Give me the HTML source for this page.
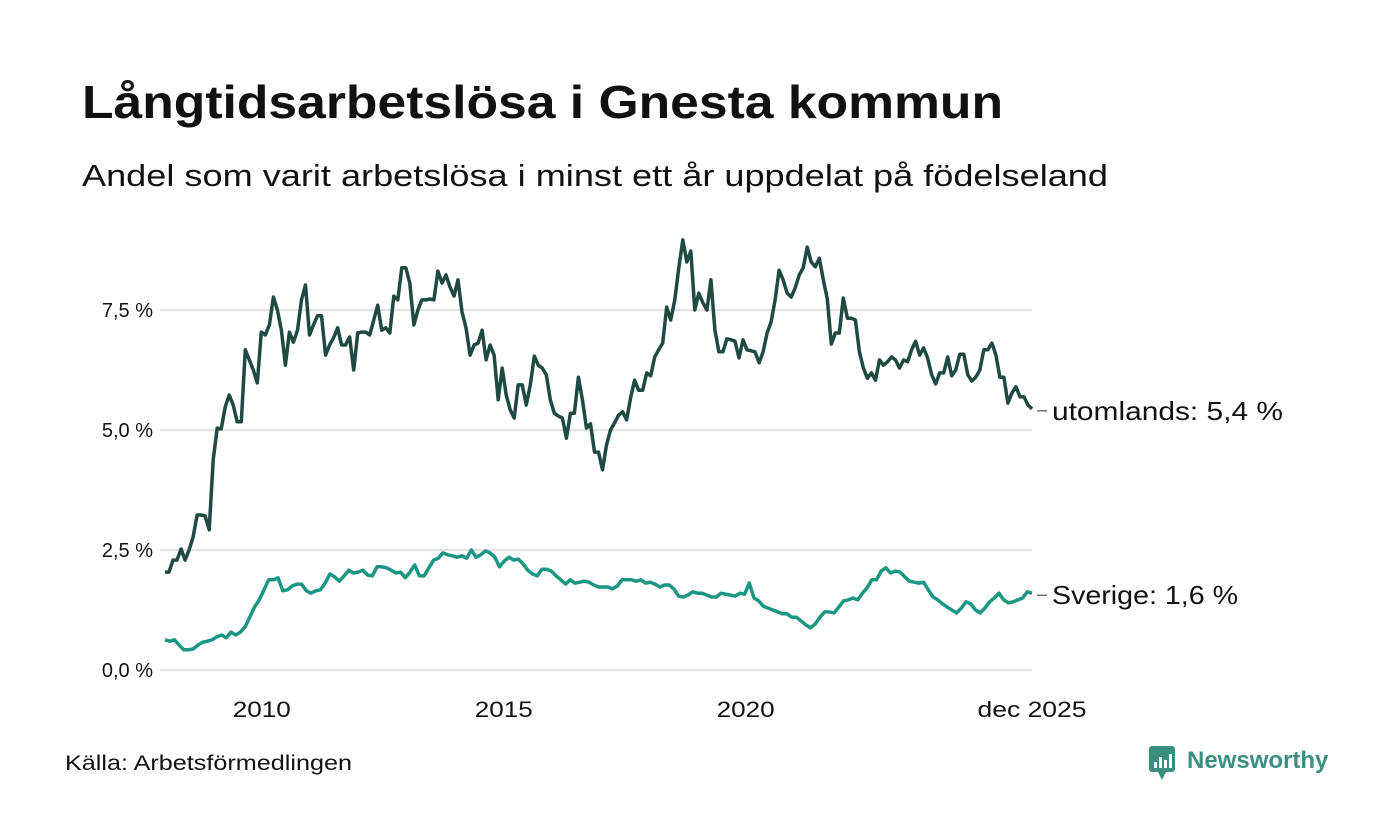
<!DOCTYPE html>
<html><head><meta charset="utf-8">
<style>
body{margin:0;background:#fff;font-family:"Liberation Sans",sans-serif;}
#wrap{position:relative;width:1400px;height:840px;overflow:hidden;background:#fff}
</style></head>
<body><div id="wrap">
<svg id="svg" width="1400" height="840" xmlns="http://www.w3.org/2000/svg">
<text x="82" y="118" font-size="46" font-weight="bold" fill="#111" textLength="921" lengthAdjust="spacingAndGlyphs" font-family="Liberation Sans, sans-serif">Långtidsarbetslösa i Gnesta kommun</text>
<text x="82" y="186" font-size="31" fill="#111" textLength="1026" lengthAdjust="spacingAndGlyphs" font-family="Liberation Sans, sans-serif">Andel som varit arbetslösa i minst ett år uppdelat på födelseland</text>
<g id="grid"></g><g id="lines"></g><g id="labels"></g>
<text x="65" y="770" font-size="21" fill="#111" textLength="287" lengthAdjust="spacingAndGlyphs">Källa: Arbetsförmedlingen</text>
<g>
<rect x="1149" y="746" width="26" height="26" rx="3" fill="#3a8f80"/>
<path d="M1158 772 L1162 780 L1166 772Z" fill="#3a8f80"/>
<rect x="1154" y="762" width="3" height="6" fill="#fff"/><rect x="1159" y="757" width="3" height="11" fill="#fff"/><rect x="1164" y="760" width="3" height="8" fill="#fff"/><rect x="1169" y="754" width="3" height="14" fill="#fff"/>
<text x="1187" y="768" font-size="24" font-weight="bold" fill="#3a8f80">Newsworthy</text>
</g>
</svg></div>
<script>
const yTicks=[0,2.5,5,7.5];
const yTickLabels=["0,0 %","2,5 %","5,0 %","7,5 %"];
const xTicks=[2010,2015,2020,2025.917];
const xTickLabels=["2010","2015","2020","dec 2025"];
const startYear=2008.0, endYear=2025.917;
const utomlands=[2.04,2.04,2.29,2.29,2.52,2.29,2.5,2.77,3.23,3.23,3.21,2.92,4.38,5.04,5.02,5.48,5.73,5.52,5.17,5.17,6.67,6.46,6.25,5.98,7.04,6.98,7.19,7.77,7.5,7.08,6.35,7.04,6.83,7.08,7.71,8.02,6.98,7.19,7.38,7.38,6.56,6.77,6.92,7.13,6.77,6.77,6.94,6.25,7.02,7.04,7.04,6.98,7.29,7.6,7.08,7.13,7.02,7.79,7.71,8.38,8.38,8.06,7.19,7.5,7.71,7.71,7.73,7.71,8.31,8.06,8.23,7.98,7.79,8.13,7.46,7.13,6.56,6.77,6.81,7.08,6.46,6.77,6.56,5.63,6.29,5.73,5.42,5.25,5.94,5.94,5.52,5.94,6.54,6.35,6.29,6.15,5.63,5.35,5.29,5.25,4.83,5.35,5.35,6.1,5.63,5.04,5.13,4.54,4.54,4.17,4.69,5.0,5.15,5.31,5.38,5.21,5.67,6.04,5.83,5.83,6.19,6.13,6.52,6.67,6.81,7.56,7.29,7.71,8.38,8.96,8.5,8.73,7.5,7.85,7.65,7.5,8.13,7.08,6.63,6.63,6.9,6.88,6.85,6.5,6.88,6.67,6.65,6.63,6.4,6.63,7.02,7.25,7.71,8.33,8.13,7.85,7.77,7.96,8.23,8.38,8.81,8.5,8.4,8.58,8.13,7.73,6.79,7.02,7.02,7.75,7.33,7.33,7.29,6.63,6.29,6.08,6.19,6.04,6.46,6.35,6.42,6.52,6.46,6.29,6.46,6.42,6.67,6.85,6.56,6.71,6.5,6.15,5.96,6.19,6.19,6.52,6.13,6.25,6.58,6.58,6.15,6.02,6.1,6.25,6.67,6.67,6.81,6.56,6.1,6.1,5.56,5.77,5.9,5.69,5.69,5.52,5.44];
const sverige=[0.63,0.6,0.63,0.52,0.42,0.42,0.44,0.52,0.58,0.6,0.63,0.69,0.73,0.67,0.79,0.73,0.79,0.9,1.1,1.31,1.46,1.67,1.88,1.88,1.92,1.65,1.67,1.75,1.79,1.79,1.65,1.6,1.65,1.67,1.81,2.0,1.94,1.85,1.96,2.08,2.02,2.04,2.08,1.98,1.96,2.15,2.15,2.13,2.08,2.02,2.04,1.92,2.04,2.19,1.96,1.96,2.13,2.29,2.33,2.44,2.4,2.38,2.35,2.38,2.33,2.5,2.35,2.4,2.48,2.44,2.35,2.15,2.27,2.35,2.29,2.31,2.21,2.08,2.0,1.96,2.1,2.1,2.06,1.96,1.88,1.79,1.88,1.81,1.83,1.85,1.83,1.77,1.73,1.73,1.73,1.69,1.75,1.88,1.88,1.88,1.85,1.88,1.81,1.83,1.79,1.73,1.77,1.77,1.69,1.54,1.52,1.56,1.63,1.6,1.6,1.56,1.52,1.52,1.6,1.58,1.56,1.54,1.6,1.58,1.81,1.5,1.44,1.33,1.29,1.25,1.21,1.17,1.17,1.1,1.1,1.02,0.94,0.88,0.96,1.1,1.21,1.21,1.19,1.31,1.44,1.46,1.5,1.46,1.6,1.71,1.88,1.88,2.06,2.13,2.02,2.06,2.04,1.94,1.85,1.83,1.81,1.83,1.67,1.52,1.46,1.38,1.31,1.25,1.19,1.29,1.42,1.38,1.25,1.19,1.29,1.42,1.5,1.6,1.46,1.4,1.42,1.46,1.5,1.63,1.6];
const x0=165,x1=1032,y0=670,pxPer=48;
function xs(t){return x0+(t-startYear)/(endYear-startYear)*(x1-x0);}
function ys(v){return y0-v*pxPer;}
const NS="http://www.w3.org/2000/svg";
function mk(tag,attrs,parent){const e=document.createElementNS(NS,tag);for(const k in attrs)e.setAttribute(k,attrs[k]);parent.appendChild(e);return e;}
const grid=document.getElementById('grid'),lines=document.getElementById('lines'),labels=document.getElementById('labels');
yTicks.forEach((v,i)=>{
 const l=mk('line',{x1:160,x2:1032,y1:ys(v),y2:ys(v),stroke:'#e2e2e6','stroke-width':2},grid);
 
 
 const t=mk('text',{x:153,y:ys(v)+7,'text-anchor':'end','font-size':20,fill:'#111'},grid);
 t.textContent=yTickLabels[i];
 
 
});
xTicks.forEach((v,i)=>{
 const w=i==3?109:58;
 const t=mk('text',{x:(i==3?1032:xs(v))-w/2,y:717,'font-size':22,fill:'#111',textLength:w,lengthAdjust:'spacingAndGlyphs'},grid);
 t.textContent=xTickLabels[i];
 
 
});
function series(arr,color,name,label,w){
 const n=arr.length;
 const pts=arr.map((v,i)=>[xs(startYear+i*(endYear-startYear)/(n-1)),ys(v)]);
 const p=mk('path',{d:'M'+pts.map(q=>q[0].toFixed(1)+','+q[1].toFixed(1)).join('L'),fill:'none',stroke:color,'stroke-width':3.5,'stroke-linejoin':'round'},lines);
 
 
 const last=pts[n-1];
 const c=mk('line',{x1:last[0]+5,x2:last[0]+15,y1:last[1]+2,y2:last[1]+2,stroke:'#333','stroke-width':1},labels);
 
 
 const t=mk('text',{x:last[0]+20,y:last[1]+11,'font-size':26,fill:'#111',textLength:w,lengthAdjust:'spacingAndGlyphs'},labels);
 t.textContent=label+(arr[n-1].toFixed(1).replace('.',','))+' %';
 
 
}
series(utomlands,'#1f4a42','utomlands-line','utomlands: ',231);
series(sverige,'#1a9683','sverige-line','Sverige: ',186);
</script>
</body></html>
